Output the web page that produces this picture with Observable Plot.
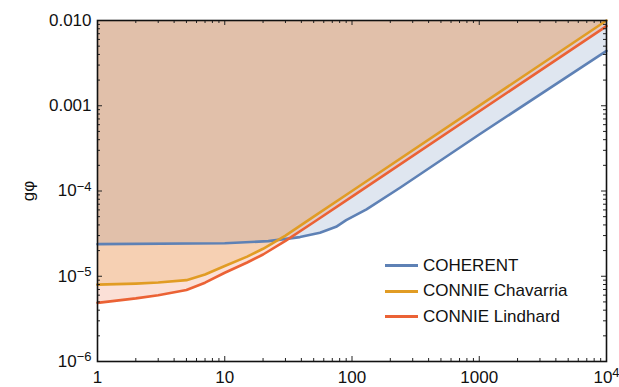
<!DOCTYPE html>
<html><head><meta charset="utf-8">
<script src="https://cdn.jsdelivr.net/npm/d3@7"></script>
<script src="https://cdn.jsdelivr.net/npm/@observablehq/plot@0.6"></script>
<style>
body{margin:0;background:#fff;}
#wrap{position:relative;width:619px;height:387px;font-family:"Liberation Sans",Arial,sans-serif;}
#legend{position:absolute;left:385px;top:253px;}
.row{display:flex;align-items:center;height:25.5px;font-size:17px;color:#111;white-space:nowrap;}
.sw{width:33px;height:3px;margin-right:5px;}
</style></head><body><div id="wrap"><div id="legend"></div></div>
<script>
// ---- data ----
const seriesNames = ["COHERENT", "CONNIE Chavarria", "CONNIE Lindhard"];
const seriesColors = ["#5e81b5", "#e19c24", "#eb6235"];

const coherentX = [1, 10, 22, 39, 56, 75, 90, 130, 240, 1000, 10000];
const coherentY = [2.38e-5, 2.44e-5, 2.58e-5, 2.88e-5, 3.24e-5, 3.8e-5, 4.55e-5, 6.1e-5, 1.1e-4, 4.6e-4, 4.4e-3];

const chavarriaX = [1, 2, 3, 5, 7, 10, 15, 20, 30, 50, 100, 10000];
const chavarriaY = [7.97e-6, 8.2e-6, 8.45e-6, 9.0e-6, 1.05e-5, 1.32e-5, 1.7e-5, 2.1e-5, 3.0e-5, 5.0e-5, 1.0e-4, 1.0e-2];

const lindhardX = [1, 2, 3, 5, 7, 10, 15, 20, 30, 50, 100, 10000];
const lindhardY = [4.87e-6, 5.5e-6, 6.0e-6, 6.9e-6, 8.4e-6, 1.1e-5, 1.45e-5, 1.8e-5, 2.6e-5, 4.3e-5, 8.6e-5, 8.6e-3];

const xTicks = [1, 10, 100, 1000, 10000];
const xTickLabels = ["1", "10", "100", "1000", "10^4"];
const yTicks = [1e-6, 1e-5, 1e-4, 1e-3, 1e-2];
const yTickLabels = ["10^\u22126", "10^\u22125", "10^\u22124", "0.001", "0.010"];
const yLabel = "g\u03c6";

// ---- build ----
const xSeries = [coherentX, chavarriaX, lindhardX];
const ySeries = [coherentY, chavarriaY, lindhardY];
const rows = [];
seriesNames.forEach((name, s) => {
  xSeries[s].forEach((x, i) => rows.push({series: name, x, y: ySeries[s][i]}));
});
const yTop = yTicks[yTicks.length - 1];

function minors(majors) {
  const out = [];
  for (let k = 0; k < majors.length - 1; k++)
    for (let m = 2; m <= 9; m++) out.push(majors[k] * m);
  return out;
}
const xMinor = minors(xTicks), yMinor = minors(yTicks);

const W = 619, H = 387, mL = 97, mR = 13, mT = 20, mB = 26;
const pW = W - mL - mR, pH = H - mT - mB;
const majLen = 5, minLen = 3;

const marks = [];
seriesNames.forEach((name, s) => {
  marks.push(Plot.areaY(rows.filter(d => d.series === name), {
    x: "x", y1: "y", y2: () => yTop, fill: seriesColors[s], fillOpacity: 0.2
  }));
});
seriesNames.forEach((name, s) => {
  marks.push(Plot.line(rows.filter(d => d.series === name), {
    x: "x", y: "y", stroke: seriesColors[s], strokeWidth: 2.6
  }));
});
// frame ticks (inward, all four sides)
const tickStyle = {stroke: "#222", strokeWidth: 1};
marks.push(
  Plot.tickY(yTicks, {y: d => d, insetRight: pW - majLen, ...tickStyle}),
  Plot.tickY(yMinor, {y: d => d, insetRight: pW - minLen, ...tickStyle}),
  Plot.tickY(yTicks, {y: d => d, insetLeft: pW - majLen, ...tickStyle}),
  Plot.tickY(yMinor, {y: d => d, insetLeft: pW - minLen, ...tickStyle}),
  Plot.tickX(xTicks, {x: d => d, insetTop: pH - majLen, ...tickStyle}),
  Plot.tickX(xMinor, {x: d => d, insetTop: pH - minLen, ...tickStyle}),
  Plot.tickX(xTicks, {x: d => d, insetBottom: pH - majLen, ...tickStyle}),
  Plot.tickX(xMinor, {x: d => d, insetBottom: pH - minLen, ...tickStyle})
);
marks.push(Plot.frame({stroke: "#111", strokeWidth: 1.6}));
marks.push(Plot.axisX({
  ticks: xTicks, tickSize: 0, tickPadding: 9, fontSize: 17, label: null,
  tickFormat: d => xTickLabels[xTicks.indexOf(d)]
}));
marks.push(Plot.axisY({
  ticks: yTicks, tickSize: 0, tickPadding: 6, fontSize: 17,
  label: yLabel, labelAnchor: "center", labelOffset: 76, labelArrow: "none",
  tickFormat: d => yTickLabels[yTicks.indexOf(d)]
}));

const chart = Plot.plot({
  width: W, height: H,
  marginLeft: mL, marginRight: mR, marginTop: mT, marginBottom: mB,
  x: {type: "log", domain: [xTicks[0], xTicks[xTicks.length - 1]]},
  y: {type: "log", domain: [yTicks[0], yTop]},
  style: {fontFamily: "'Liberation Sans', Arial, sans-serif", fontSize: "17px", color: "#111", background: "white", overflow: "visible"},
  marks
});

// superscripts for "10^n" labels
d3.select(chart).selectAll("text").each(function () {
  const t = this.textContent;
  const m = /^10\^(.+)$/.exec(t);
  if (!m) return;
  const sel = d3.select(this);
  sel.text("");
  sel.append("tspan").text("10");
  sel.append("tspan").attr("dy", "-0.42em").attr("font-size", "13px").text(m[1]);
});

const wrap = document.getElementById("wrap");
wrap.insertBefore(chart, wrap.firstChild);

const legend = document.getElementById("legend");
seriesNames.forEach((name, s) => {
  const row = document.createElement("div");
  row.className = "row";
  const sw = document.createElement("span");
  sw.className = "sw";
  sw.style.background = seriesColors[s];
  row.appendChild(sw);
  row.appendChild(document.createTextNode(name));
  legend.appendChild(row);
});
</script>
</body></html>
